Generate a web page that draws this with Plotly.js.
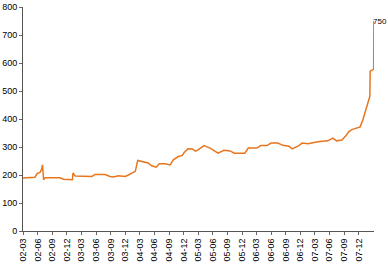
<!DOCTYPE html>
<html>
<head>
<meta charset="utf-8">
<script src="https://cdn.plot.ly/plotly-3.0.1.min.js"></script>
<style>html,body{margin:0;padding:0;background:#fff;}#chart{width:388px;height:264px;}</style>
</head>
<body>
<div id="chart"></div>
<script>
var dates = ['2002-03-01','2002-04-15','2002-05-15','2002-05-28','2002-06-17','2002-06-26','2002-07-01','2002-07-08','2002-07-18','2002-10-20','2002-11-08','2003-01-04','2003-01-08','2003-01-22','2003-05-06','2003-05-26','2003-07-28','2003-08-28','2003-09-20','2003-10-18','2003-12-01','2003-12-20','2004-01-13','2004-02-02','2004-02-17','2004-03-15','2004-04-22','2004-05-17','2004-06-12','2004-07-01','2004-08-08','2004-09-07','2004-09-27','2004-10-28','2004-11-22','2004-12-04','2004-12-28','2005-01-24','2005-02-12','2005-03-01','2005-04-07','2005-05-15','2005-06-03','2005-07-04','2005-08-10','2005-09-18','2005-10-13','2005-12-19','2006-01-09','2006-03-04','2006-03-28','2006-05-06','2006-06-01','2006-07-13','2006-08-13','2006-09-22','2006-10-10','2006-11-04','2006-11-22','2006-12-12','2007-01-18','2007-02-25','2007-04-01','2007-05-22','2007-06-22','2007-07-16','2007-08-18','2007-09-12','2007-10-01','2007-10-20','2007-11-13','2007-12-10','2007-12-28','2008-01-22','2008-02-09','2008-02-11','2008-03-04','2008-03-05'];
var values = [189,190,192,205,210,222,236,183,190,190,185,183,207,196,195,202,202,195,193,197,195,200,207,213,252,248,243,232,228,240,240,236,254,266,270,280,294,293,285,290,305,296,290,278,288,286,278,278,296,296,305,305,314,314,306,303,293,300,305,314,312,316,320,322,332,322,325,340,355,362,368,372,398,445,481,571,577,750];
var tickDates = ['2002-03-01','2002-06-01','2002-09-01','2002-12-01','2003-03-01','2003-06-01','2003-09-01','2003-12-01','2004-03-01','2004-06-01','2004-09-01','2004-12-01','2005-03-01','2005-06-01','2005-09-01','2005-12-01','2006-03-01','2006-06-01','2006-09-01','2006-12-01','2007-03-01','2007-06-01','2007-09-01','2007-12-01'];
var tickLabels = ['02-03','02-06','02-09','02-12','03-03','03-06','03-09','03-12','04-03','04-06','04-09','04-12','05-03','05-06','05-09','05-12','06-03','06-06','06-09','06-12','07-03','07-06','07-09','07-12'];
var endLabel = '750';

var fontFam = '"Liberation Sans Narrow", "Arial Narrow", "Liberation Sans", Arial, sans-serif';
var trace = {
  x: dates, y: values, type: 'scatter', mode: 'lines',
  line: {color: '#e8761e', width: 1.5}, hoverinfo: 'skip'
};
var layout = {
  width: 388, height: 264,
  margin: {l: 23, r: 14, t: 7, b: 33},
  paper_bgcolor: '#fff', plot_bgcolor: '#fff',
  showlegend: false,
  font: {family: fontFam, size: 9, color: '#000'},
  xaxis: {
    type: 'date', range: ['2002-03-01', '2008-03-06'],
    tickmode: 'array', tickvals: tickDates, ticktext: tickLabels,
    tickangle: -90, ticks: 'outside', ticklen: 3, tickcolor: '#666',
    showline: true, linecolor: '#555', linewidth: 1,
    showgrid: false, zeroline: false,
    tickfont: {family: fontFam, size: 9, color: '#000'}
  },
  yaxis: {
    range: [0, 800], dtick: 100, tick0: 0,
    ticks: 'outside', ticklen: 3, tickcolor: '#666',
    showline: true, linecolor: '#555', linewidth: 1,
    showgrid: false, zeroline: false,
    tickfont: {family: fontFam, size: 9, color: '#000'}
  },
  annotations: [{
    x: dates[dates.length - 1], y: values[values.length - 1],
    text: endLabel, showarrow: false, xanchor: 'left', yanchor: 'middle',
    xshift: -3, font: {family: fontFam, size: 8, color: '#000'}
  }]
};
Plotly.newPlot('chart', [trace], layout, {staticPlot: true, displayModeBar: false});
</script>
</body>
</html>
